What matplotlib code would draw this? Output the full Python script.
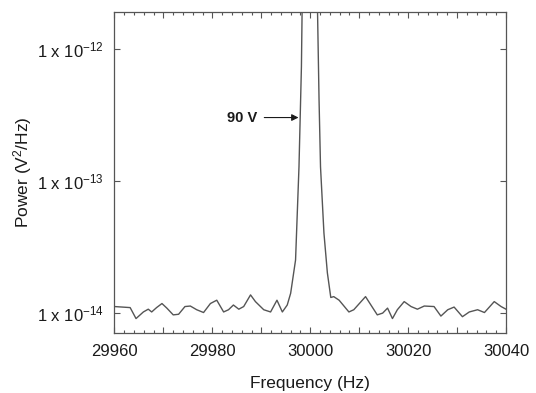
import numpy as np
from matplotlib import pyplot as plt
from matplotlib.ticker import FixedLocator, MultipleLocator, NullLocator

plt.rcParams['font.family'] = ['Liberation Sans', 'DejaVu Sans']
plt.rcParams['mathtext.default'] = 'regular'

# spectrum (frequency in Hz, power in V^2/Hz)
freq = [29960.0, 29963.2, 29964.4, 29965.9, 29966.9, 29967.6, 29968.6, 29969.7,
        29970.7, 29972.0, 29973.1, 29974.4, 29975.5, 29976.8, 29978.2, 29979.6,
        29980.9, 29982.3, 29983.3, 29984.3, 29985.4, 29986.4, 29987.8, 29988.8,
        29990.5, 29991.9, 29993.2, 29994.3, 29995.3, 29996.0, 29997.0, 29997.7,
        29998.2, 29998.4, 30000.0, 30001.4, 30001.8, 30002.1, 30002.8, 30003.5,
        30004.2, 30004.8, 30005.9, 30007.9, 30008.9, 30011.3, 30012.4, 30013.7,
        30014.8, 30015.8, 30016.8, 30017.8, 30019.2, 30020.6, 30021.9, 30023.3,
        30025.3, 30026.7, 30028.1, 30029.4, 30031.1, 30032.5, 30034.2, 30035.6,
        30037.6, 30039.0, 30040.0]
power = [1.11e-14, 1.09e-14, 0.90e-14, 1.01e-14, 1.06e-14, 1.01e-14, 1.09e-14, 1.17e-14,
         1.08e-14, 0.96e-14, 0.97e-14, 1.11e-14, 1.12e-14, 1.05e-14, 1.00e-14, 1.17e-14,
         1.24e-14, 1.01e-14, 1.05e-14, 1.14e-14, 1.06e-14, 1.11e-14, 1.36e-14, 1.21e-14,
         1.05e-14, 1.01e-14, 1.24e-14, 1.01e-14, 1.14e-14, 1.40e-14, 2.50e-14, 1.27e-13,
         7.3e-13, 3.0e-12, 5.0e-11, 3.0e-12, 4.1e-13, 1.27e-13, 4.0e-14, 2.0e-14,
         1.30e-14, 1.32e-14, 1.24e-14, 1.01e-14, 1.05e-14, 1.32e-14, 1.14e-14, 0.96e-14,
         0.99e-14, 1.08e-14, 0.90e-14, 1.05e-14, 1.21e-14, 1.11e-14, 1.06e-14, 1.12e-14,
         1.11e-14, 0.94e-14, 1.05e-14, 1.10e-14, 0.93e-14, 1.01e-14, 1.05e-14, 1.00e-14,
         1.21e-14, 1.11e-14, 1.06e-14]

xticks = [29960, 29970, 29980, 29990, 30000, 30010, 30020, 30030, 30040]
xlabels = ['29960', '', '29980', '', '30000', '', '30020', '', '30040']
yticks = [1e-14, 1e-13, 1e-12]
ylabels = ['1 x 10$^{-14}$', '1 x 10$^{-13}$', '1 x 10$^{-12}$']

fig = plt.figure(figsize=(5.36, 3.93), dpi=100)
ax = fig.add_axes([0.2136, 0.1527, 0.7304, 0.8168])
ax.plot(freq, power, color='#555555', lw=1.0)
ax.set_yscale('log')
ax.set_xlim(29960, 30040)
ax.set_ylim(10**-14.155, 10**-11.723)

ax.set_xticks(xticks)
ax.set_xticklabels(xlabels)
ax.xaxis.set_minor_locator(MultipleLocator(2))
ax.yaxis.set_major_locator(FixedLocator(yticks))
ax.set_yticklabels(ylabels)
ax.yaxis.set_minor_locator(NullLocator())

ax.tick_params(which='both', direction='in', top=True, right=True,
               color='#555555', width=0.8, labelsize=12, labelcolor='#1a1a1a')
ax.tick_params(which='major', length=4.5)
ax.tick_params(which='minor', length=2.2)
ax.tick_params(axis='x', pad=8)
ax.tick_params(axis='y', pad=8)
for s in ax.spines.values():
    s.set_color('#555555')
    s.set_linewidth(0.9)

ax.set_xlabel('Frequency (Hz)', fontsize=12.5, color='#1a1a1a', labelpad=12)
ax.set_ylabel('Power (V$^2$/Hz)', fontsize=12.5, color='#1a1a1a', labelpad=2)

ylev = 1e-14 * 10**((312.5 - 117.5) / 132)
ax.annotate('90 V', xy=(29997.6, ylev), xytext=(29986.1, ylev),
            fontsize=10.5, fontweight='bold', color='#1a1a1a', va='center', ha='center',
            arrowprops=dict(arrowstyle='-|>', color='#1a1a1a', lw=0.8,
                            mutation_scale=10, shrinkA=3, shrinkB=0))

plt.savefig('out.png', dpi=100)
